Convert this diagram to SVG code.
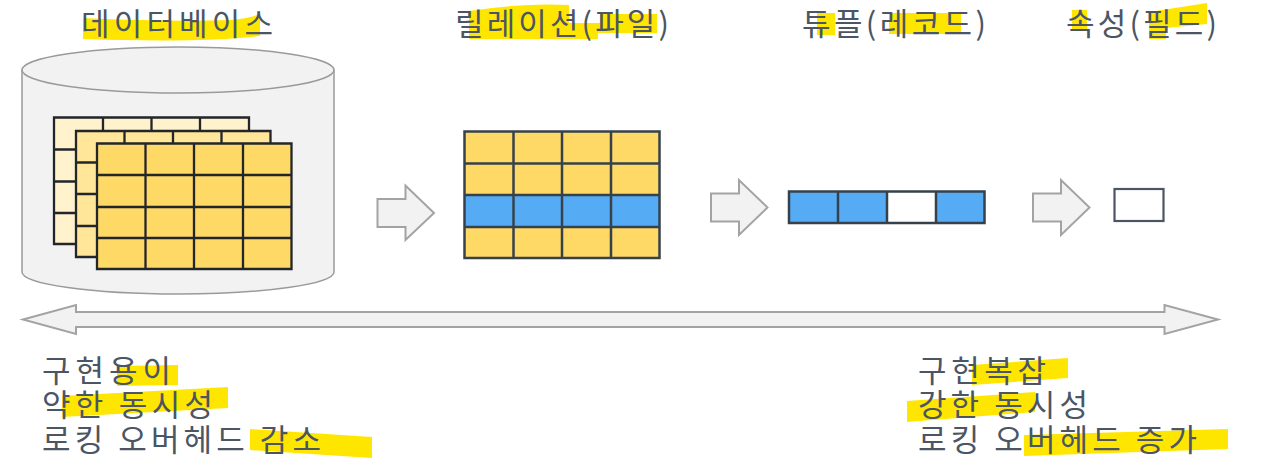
<svg xmlns="http://www.w3.org/2000/svg" width="1268" height="473" viewBox="0 0 1268 473">
<style>
.hl{fill:#ffe600}
.t{font-family:"Noto Sans CJK KR","Liberation Sans",sans-serif;fill:#4b5563;font-size:31px}
.b{fill:#f2f2f2;stroke:#9a9a9a;stroke-width:1.5}
.a{fill:#f2f2f2;stroke:#a3a3a3;stroke-width:2}
.g{fill:none;stroke:#22262a;stroke-width:2.300}
.g2{fill:none;stroke:#36414c;stroke-width:2.500}
</style>
<rect width="1268" height="473" fill="#fff"/>
<g id="highlights">
<path class="hl" d="M83 18Q170 22 230 20Q250 18 260 14V36Q200 43 83 39Z"/>
<path class="hl" d="M469 11Q520 3 569 5V23H600V14H657V33H598V39H469Z"/>
<path class="hl" d="M817 13H835V35H817ZM889 13H961V34H889Z"/>
<path class="hl" d="M1072 10H1087V31H1072ZM1149 12L1207 3V24L1166 28V39H1149Z"/>
<path class="hl" d="M117 366L178 365V385L117 386Z"/>
<path class="hl" d="M62 396L228 387V408L62 417Z"/>
<path class="hl" d="M250 429L372 437V458L250 450Z"/>
<path class="hl" d="M972 365L1068 358V378L972 385Z"/>
<path class="hl" d="M907 401L1035 392V412L907 422Z"/>
<path class="hl" d="M1024 435L1228 429V449L1024 456Z"/>
</g>
<g id="database">
<path class="b" d="M22 70V272C22 284 92 294 178 294S334 284 334 272V70"/>
<ellipse class="b" cx="178" cy="70" rx="156" ry="23"/>
<g id="table-back">
<rect x="54" y="117.500" width="195" height="127" fill="#fff2cc"/>
<path class="g" d="M54 117.500H249V244H54ZM103 117.500V244M151.500 117.500V244M200 117.500V244M54 149.500H249M54 181.500H249M54 213H249"/>
</g>
<g id="table-middle">
<rect x="76" y="131" width="195" height="126" fill="#ffe699"/>
<path class="g" d="M76 131H270.500V257H76ZM124.500 131V257M173 131V257M221.500 131V257M76 162.500H270.500M76 194H270.500M76 226H270.500"/>
</g>
<g id="table-front">
<rect x="97" y="143.500" width="194.500" height="125.500" fill="#ffd966"/>
<path class="g" d="M97 143.500H291.500V269H97ZM145.500 143.500V269M194 143.500V269M243 143.500V269M97 175H291.500M97 207H291.500M97 238H291.500"/>
</g>
</g>
<g id="relation">
<rect x="464.500" y="131.500" width="195" height="127" fill="#ffd966"/>
<rect x="464.500" y="195" width="195" height="32" fill="#55acf5"/>
<path class="g2" d="M464.500 131.500H659.500V258H464.500ZM513.500 131.500V258M562 131.500V258M611 131.500V258M464.500 163.500H659.500M464.500 195H659.500M464.500 227H659.500"/>
</g>
<g id="tuple">
<rect x="789" y="191.500" width="195.500" height="31.500" fill="#55acf5"/>
<rect x="887" y="191.500" width="49" height="31.500" fill="#fff"/>
<path class="g2" d="M789 191.500H984.500V223H789ZM838 191.500V223M887 191.500V223M936 191.500V223"/>
</g>
<g id="attribute">
<rect x="1114.500" y="189" width="49" height="32" fill="#fff" stroke="#4b5563" stroke-width="2.200"/>
</g>
<g id="connectors">
<path class="a" d="M377.500 199H405.500V185.500L434 213L405.500 240V227H377.500Z"/>
<path class="a" d="M711 193.500H739V180L767.500 207.500L739 235V221.500H711Z"/>
<path class="a" d="M1033 193.500H1061V180L1089.500 207.500L1061 235V221.500H1033Z"/>
<path class="a" d="M23 319.500L76 305V312H1164.500V305L1218 319.500L1164.500 334V327H76V334Z"/>
</g>
<g id="labels">
<text class="t" x="81" y="35" textLength="192" lengthAdjust="spacing">데이터베이스</text>
<text class="t" x="455" y="35" textLength="214" lengthAdjust="spacing">릴레이션(파일)</text>
<text class="t" x="802" y="35" textLength="184" lengthAdjust="spacing">튜플(레코드)</text>
<text class="t" x="1066" y="35" textLength="151" lengthAdjust="spacing">속성(필드)</text>
<text class="t" x="42" y="382" textLength="129" lengthAdjust="spacing">구현용이</text>
<text class="t" x="42" y="416" textLength="171" lengthAdjust="spacing">약한 동시성</text>
<text class="t" x="42" y="451" textLength="279" lengthAdjust="spacing">로킹 오버헤드 감소</text>
<text class="t" x="918" y="382" textLength="128" lengthAdjust="spacing">구현복잡</text>
<text class="t" x="918" y="416" textLength="170" lengthAdjust="spacing">강한 동시성</text>
<text class="t" x="918" y="451" textLength="279" lengthAdjust="spacing">로킹 오버헤드 증가</text>
</g>
</svg>
